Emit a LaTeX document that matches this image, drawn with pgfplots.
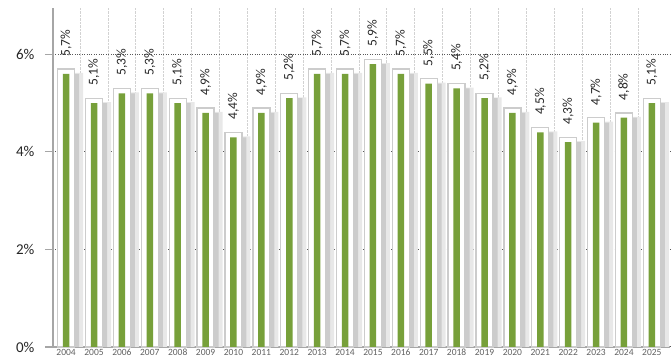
\documentclass[border=0pt]{standalone}
\usepackage{pgfplots}
\pgfplotsset{compat=1.18}
\usepackage{fontspec}
\setmainfont{Carlito}
\definecolor{barg}{HTML}{77A03A}
\begin{document}
\begin{tikzpicture}
\useasboundingbox (-53pt,-11pt) rectangle (619pt,347pt);
\begin{axis}[
  /pgf/number format/assume math mode=true,
  scale only axis, width=617pt, height=339pt,
  xmin=-0.47, xmax=21.65, ymin=0, ymax=6.95,
  axis x line*=bottom, axis y line*=left,
  axis line style={gray!70, line width=1.2pt},
  xtick={0,...,21},
  xticklabels={2004,2005,2006,2007,2008,2009,2010,2011,2012,2013,2014,2015,2016,2017,2018,2019,2020,2021,2022,2023,2024,2025},
  xticklabel style={font=\fontsize{9.5}{10}\selectfont, text=gray!75!black, inner sep=0pt, yshift=6pt},
  xtick style={draw=none},
  minor xtick={0.5,1.5,...,20.5},
  xminorgrids, minor x grid style={gray!35, densely dotted, line width=0.8pt},
  ytick={0,2,4,6}, yticklabels={0\%,2\%,4\%,6\%},
  yticklabel style={font=\fontsize{15}{16}\selectfont, text=black!85, xshift=-7pt},
  ymajorgrids, major y grid style={gray!70!black, dotted, line width=1pt},
  major tick length=8pt, ytick style={gray!70, line width=1.2pt},
  minor tick length=0pt,
  tick align=outside,
  clip=false,
  every node near coord/.append style={anchor=south, font=\fontsize{13.5}{14}\selectfont, text=black!85, inner sep=0pt, yshift=12pt},
]
% shadows
\addplot[ybar, bar width=9pt, bar shift=12.5pt, draw=none, fill=gray!18] coordinates {
(0,5.62)(1,5.02)(2,5.22)(3,5.22)(4,5.02)(5,4.82)(6,4.32)(7,4.82)(8,5.12)(9,5.62)(10,5.62)
(11,5.82)(12,5.62)(13,5.42)(14,5.32)(15,5.12)(16,4.82)(17,4.42)(18,4.22)(19,4.62)(20,4.72)(21,5.02)};
\addplot[ybar, bar width=5pt, bar shift=10.5pt, draw=none, fill=gray!40] coordinates {
(0,5.6)(1,5.0)(2,5.2)(3,5.2)(4,5.0)(5,4.8)(6,4.3)(7,4.8)(8,5.1)(9,5.6)(10,5.6)
(11,5.8)(12,5.6)(13,5.4)(14,5.3)(15,5.1)(16,4.8)(17,4.4)(18,4.2)(19,4.6)(20,4.7)(21,5.0)};
% white outer bars
\addplot[ybar, bar width=17pt, bar shift=0pt, fill=white, draw=gray!40, line width=1.3pt,
  nodes near coords={\rotatebox{90}{\pgfmathprintnumber[fixed,fixed zerofill,precision=1,use comma]{\pgfplotspointmeta}\%}},
] coordinates {
(0,5.7)(1,5.1)(2,5.3)(3,5.3)(4,5.1)(5,4.9)(6,4.4)(7,4.9)(8,5.2)(9,5.7)(10,5.7)
(11,5.9)(12,5.7)(13,5.5)(14,5.4)(15,5.2)(16,4.9)(17,4.5)(18,4.3)(19,4.7)(20,4.8)(21,5.1)};
% green inner bars
\addplot[ybar, bar width=6.5pt, bar shift=0pt, fill=barg, draw=none] coordinates {
(0,5.6)(1,5.0)(2,5.2)(3,5.2)(4,5.0)(5,4.8)(6,4.3)(7,4.8)(8,5.1)(9,5.6)(10,5.6)
(11,5.8)(12,5.6)(13,5.4)(14,5.3)(15,5.1)(16,4.8)(17,4.4)(18,4.2)(19,4.6)(20,4.7)(21,5.0)};
\end{axis}
\end{tikzpicture}
\end{document}
